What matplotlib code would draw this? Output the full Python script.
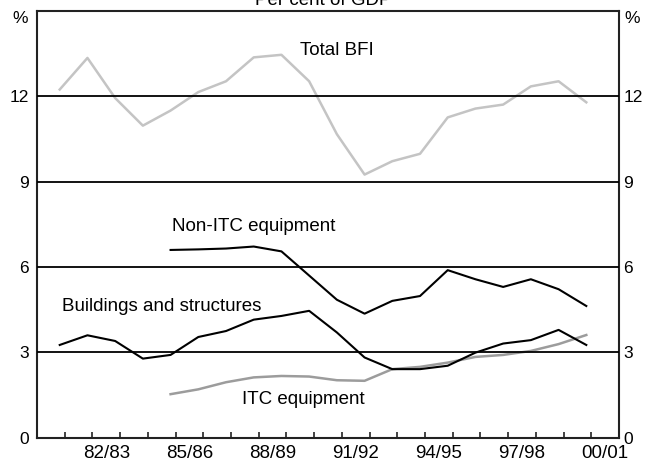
import numpy as np
import matplotlib
matplotlib.use("Agg")
import matplotlib.pyplot as plt

plt.rcParams['font.family'] = ['Liberation Sans', 'DejaVu Sans']

# Fiscal years ending June (80/81 ... 99/00), annual observations
years_total = list(range(1981, 2001))
total_bfi = [12.24, 13.35, 11.94, 10.97, 11.5, 12.15, 12.53, 13.37, 13.46, 12.53,
             10.67, 9.25, 9.72, 9.98, 11.26, 11.57, 11.71, 12.35, 12.53, 11.79]

years_build = list(range(1981, 2001))
buildings = [3.26, 3.60, 3.40, 2.78, 2.91, 3.54, 3.75, 4.15, 4.28, 4.46,
             3.70, 2.82, 2.41, 2.41, 2.53, 2.99, 3.31, 3.43, 3.79, 3.26]

years_equip = list(range(1985, 2001))
non_itc = [6.60, 6.62, 6.65, 6.72, 6.55, 5.70, 4.85, 4.36, 4.81, 4.98,
           5.89, 5.57, 5.30, 5.57, 5.22, 4.63]
itc = [1.53, 1.70, 1.95, 2.12, 2.17, 2.15, 2.02, 2.00, 2.41, 2.49,
       2.64, 2.84, 2.91, 3.05, 3.29, 3.61]

fy_labels = ['82/83', '85/86', '88/89', '91/92', '94/95', '97/98', '00/01']
fy_label_start = [1982, 1985, 1988, 1991, 1994, 1997, 2000]
yticks = [0, 3, 6, 9, 12]

FS = 13.5
YFS = 12.5

def pos(yrs):
    # observation plotted near the end of the fiscal year axis interval
    return np.array(yrs) - 0.18

fig = plt.figure(figsize=(6.46, 4.61), dpi=100)
ax = fig.add_axes([37/646, 1 - 437.7/461, (619 - 37)/646, (437.7 - 11)/461])

ax.set_xlim(1980, 2001)
ax.set_ylim(0, 15)

for yv in yticks[1:]:
    ax.axhline(yv, color='black', lw=1.3, zorder=3)

ax.plot(pos(years_total), total_bfi, color='#c4c4c4', lw=1.8, zorder=2)
ax.plot(pos(years_equip), itc, color='#9c9c9c', lw=1.8, zorder=2)
ax.plot(pos(years_build), buildings, color='black', lw=1.5, zorder=4)
ax.plot(pos(years_equip), non_itc, color='black', lw=1.5, zorder=4)

for s in ax.spines.values():
    s.set_linewidth(1.5)
    s.set_color('#222222')

# x ticks: boundaries of fiscal years, labels centred in the interval
ax.set_xticks(np.arange(1981, 2001))
ax.set_xticklabels([])
ax.set_xticks([y + 0.5 for y in fy_label_start], minor=True)
ax.set_xticklabels(fy_labels, minor=True, fontsize=FS)
ax.tick_params(axis='x', which='major', direction='in', length=4.5, width=1.2, color='#222222')
ax.tick_params(axis='x', which='minor', length=0, pad=5)

ax.set_yticks(yticks)
ax.set_yticklabels([str(v) for v in yticks], fontsize=YFS)
ax.tick_params(axis='y', which='both', length=0, pad=6)

axr = ax.twinx()
axr.set_ylim(0, 15)
axr.set_yticks(yticks)
axr.set_yticklabels([str(v) for v in yticks], fontsize=YFS)
axr.tick_params(axis='y', length=0, pad=3)
for s in axr.spines.values():
    s.set_visible(False)

ax.text(-0.015, 1.0, '%', transform=ax.transAxes, ha='right', va='top', fontsize=YFS)
ax.text(1.01, 1.0, '%', transform=ax.transAxes, ha='left', va='top', fontsize=YFS)

ax.text(1989.5, 13.6, 'Total BFI', ha='left', va='center', fontsize=FS)
ax.text(1984.86, 7.42, 'Non-ITC equipment', ha='left', va='center', fontsize=FS)
ax.text(1980.89, 4.6, 'Buildings and structures', ha='left', va='center', fontsize=FS)
ax.text(1987.38, 1.33, 'ITC equipment', ha='left', va='center', fontsize=FS)

fig.text(0.5, 1 - 5/461, 'Per cent of GDP', ha='center', va='baseline', fontsize=FS)

fig.savefig('out.png', dpi=100)
